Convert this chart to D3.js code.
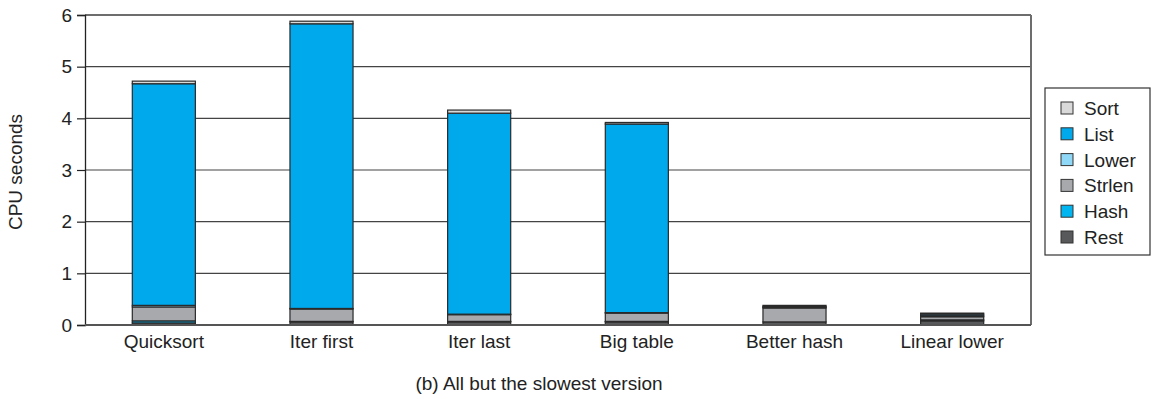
<!DOCTYPE html>
<html><head><meta charset="utf-8">
<script src="https://cdn.jsdelivr.net/npm/d3@7"></script>
<style>body{margin:0;background:#fff}svg{display:block;font-family:"Liberation Sans",Arial,sans-serif}</style>
</head><body><svg id="c" width="1153" height="399"></svg>
<script>
const categories = ["Quicksort","Iter first","Iter last","Big table","Better hash","Linear lower"];
const seriesNames = ["Rest","Hash","Strlen","Lower","List","Sort"];
const rest   = [0.04,0.06,0.06,0.06,0.06,0.08];
const hash   = [0.04,0.01,0.01,0.01,0.00,0.02];
const strlen = [0.27,0.24,0.13,0.16,0.27,0.06];
const lower  = [0.03,0.01,0.01,0.01,0.01,0.02];
const list   = [4.29,5.51,3.89,3.65,0.02,0.03];
const sort   = [0.05,0.05,0.06,0.03,0.02,0.02];
const yTicks = [0,1,2,3,4,5,6];
const colors = {Rest:"#58595b",Hash:"#00b5f0",Strlen:"#a7a9ac",Lower:"#8fd8f8",List:"#00a8ec",Sort:"#d9d9da"};
const legendOrder = ["Sort","List","Lower","Strlen","Hash","Rest"];

const vals = {Rest:rest,Hash:hash,Strlen:strlen,Lower:lower,List:list,Sort:sort};
const table = categories.map((c,i)=>{const o={cat:c};seriesNames.forEach(s=>o[s]=vals[s][i]);return o;});
const stack = d3.stack().keys(seriesNames)(table);

const FS = 19;
const svg = d3.select("#c");
const L=85,R=1031,T=15,B=325;
const x = d3.scaleBand().domain(categories).range([L,R]).paddingInner(0.6).paddingOuter(0.3);
const y = d3.scaleLinear().domain([0,6]).range([B,T]);

// gridlines
svg.append("g").selectAll("line").data(yTicks.slice(1)).join("line")
  .attr("x1",L).attr("x2",R).attr("y1",d=>y(d)).attr("y2",d=>y(d))
  .attr("stroke",d=>d===6?"#6d6d6d":"#444").attr("stroke-width",d=>d===6?2:1.2);
svg.append("line").attr("x1",R).attr("x2",R).attr("y1",T).attr("y2",B).attr("stroke","#6d6d6d").attr("stroke-width",2);

// bars
svg.append("g").selectAll("g").data(stack).join("g").attr("fill",d=>colors[d.key])
  .selectAll("rect").data(d=>d).join("rect")
  .attr("x",d=>x(d.data.cat)).attr("width",x.bandwidth())
  .attr("y",d=>y(d[1])).attr("height",d=>Math.max(0,y(d[0])-y(d[1])))
  .attr("stroke","#2a2a2a").attr("stroke-width",1.2);

// y axis
const ya = svg.append("g").attr("transform",`translate(${L},0)`)
  .call(d3.axisLeft(y).tickValues(yTicks).tickFormat(d3.format("d")).tickSize(8).tickPadding(5));
ya.select(".domain").attr("stroke","#222").attr("stroke-width",1.3);
ya.selectAll(".tick line").attr("stroke","#222").attr("stroke-width",1.2);
ya.selectAll("text").attr("font-size",FS).attr("fill","#222").attr("font-family","Liberation Sans, Arial, sans-serif");

// x axis
const xa = svg.append("g").attr("transform",`translate(0,${B})`)
  .call(d3.axisBottom(x).tickSize(0).tickPadding(10));
xa.select(".domain").attr("stroke","#555").attr("stroke-width",2).attr("d",`M${L},0H${R}`);
xa.selectAll("text").attr("font-size",FS).attr("fill","#222").attr("font-family","Liberation Sans, Arial, sans-serif");

svg.append("text").attr("transform","translate(22,172) rotate(-90)").attr("text-anchor","middle")
  .attr("font-size",FS).attr("fill","#222").text("CPU seconds");
svg.append("text").attr("x",539).attr("y",390).attr("text-anchor","middle")
  .attr("font-size",FS).attr("fill","#222").text("(b) All but the slowest version");

// legend
const lg = svg.append("g");
lg.append("rect").attr("x",1045).attr("y",88).attr("width",105).attr("height",167)
  .attr("fill","#fff").attr("stroke","#333").attr("stroke-width",1.2);
const li = lg.selectAll("g").data(legendOrder).join("g")
  .attr("transform",(d,i)=>`translate(1061,${108+i*25.8})`);
li.append("rect").attr("x",0).attr("y",-6).attr("width",12).attr("height",12)
  .attr("fill",d=>colors[d]).attr("stroke","#333").attr("stroke-width",1);
li.append("text").attr("x",23).attr("y",7).attr("font-size",FS).attr("fill","#222").text(d=>d);
</script></body></html>
